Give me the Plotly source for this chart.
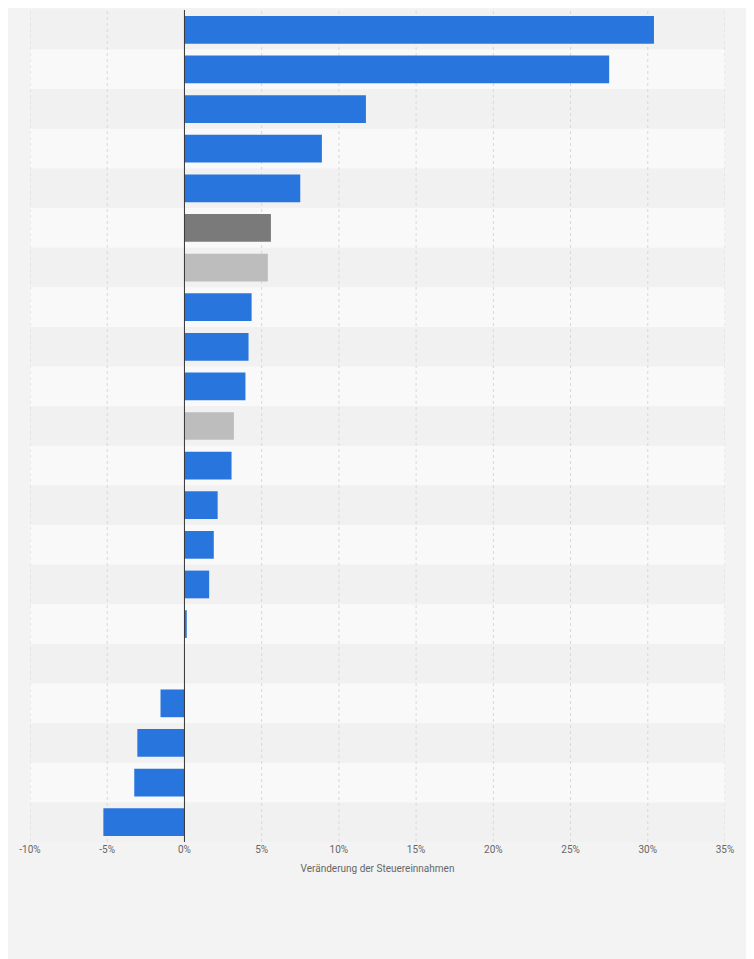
import plotly.graph_objects as go

categories = [f"c{i}" for i in range(1, 22)]
values = [30.4, 27.5, 11.75, 8.9, 7.5, 5.6, 5.4, 4.35, 4.15, 3.95, 3.2, 3.05,
          2.15, 1.9, 1.6, 0.15, 0.0, -1.55, -3.05, -3.25, -5.25]
bar_colors = ["#2876dd"] * 21
bar_colors[5] = "#7a7a7a"
bar_colors[6] = "#bdbdbd"
bar_colors[10] = "#bdbdbd"
tick_vals = [-10, -5, 0, 5, 10, 15, 20, 25, 30, 35]
tick_text = ["-10%", "-5%", "0%", "5%", "10%", "15%", "20%", "25%", "30%", "35%"]

fig = go.Figure(go.Bar(x=values, y=categories, orientation="h",
                       marker=dict(color=bar_colors, line_width=0), width=0.7))

shapes = []
for i in range(len(categories)):
    shapes.append(dict(type="rect", xref="paper", yref="y", x0=0, x1=1,
                       y0=i - 0.5, y1=i + 0.5, layer="below", line_width=0,
                       fillcolor="#f1f1f1" if i % 2 == 0 else "#f9f9f9"))
for t in tick_vals:
    if t != 0:
        shapes.append(dict(type="line", xref="x", yref="paper", x0=t, x1=t, y0=0, y1=1,
                           layer="below", line=dict(color="#d8d8d8", width=1, dash="dot")))
shapes.append(dict(type="line", xref="x", yref="paper", x0=0, x1=0, y0=0, y1=1,
                   line=dict(color="#333333", width=1)))

fig.update_layout(
    width=754, height=959, paper_bgcolor="#f3f3f3", plot_bgcolor="#f3f3f3",
    margin=dict(l=22, r=37, t=2, b=125), shapes=shapes, showlegend=False,
    font=dict(family="Roboto, Arial", color="#666666"),
    xaxis=dict(range=[-10, 35], tickvals=tick_vals, ticktext=tick_text, showgrid=False,
               zeroline=False, tickfont=dict(size=10),
               title=dict(text="Veränderung der Steuereinnahmen", font=dict(size=10), standoff=10)),
    yaxis=dict(categoryorder="array", categoryarray=categories, autorange="reversed",
               showticklabels=False, showgrid=False, zeroline=False),
)
fig.write_html("out.html")
